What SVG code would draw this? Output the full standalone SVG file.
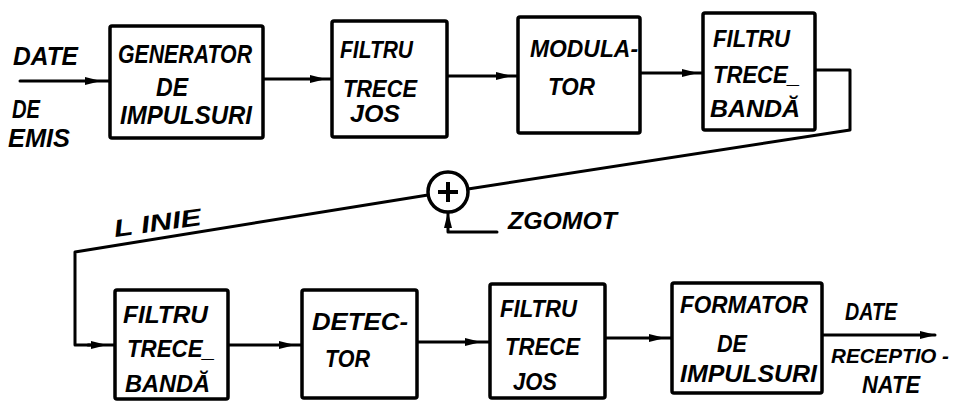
<svg xmlns="http://www.w3.org/2000/svg" width="960" height="402" viewBox="0 0 960 402">
  <style>
    .box { fill: #fff; stroke: #000; stroke-width: 3.5; stroke-linejoin: round; }
    .wire { fill: none; stroke: #000; stroke-width: 3; stroke-linejoin: round; stroke-linecap: round; }
    .t { font-family: "Liberation Sans", Arial, sans-serif; font-weight: bold; font-style: italic; font-size: 24px; fill: #000; }
    .tl { font-size: 26px; }
    .ts { font-size: 21px; }
  </style>
  <defs>
    <marker id="arrow" viewBox="0 0 16 10" refX="15" refY="5" markerWidth="16" markerHeight="10" markerUnits="userSpaceOnUse" orient="auto">
      <path d="M0,1 L16,5 L0,9 z" fill="#000"/>
    </marker>
  </defs>

  <!-- connectors -->
  <g id="connectors">
    <path class="wire" d="M20,81 L100,81 L110,81" marker-mid="url(#arrow)"/>
    <path class="wire" d="M263,79 L325,79 L332,79" marker-mid="url(#arrow)"/>
    <path class="wire" d="M447,76 L511,76 L518,76" marker-mid="url(#arrow)"/>
    <path class="wire" d="M640,73 L697,73 L703,73" marker-mid="url(#arrow)"/>
    <!-- line: band-pass output, down and back across to the summing point -->
    <path class="wire" d="M815,70 L850,70 L850,130 L468,189"/>
    <path class="wire" d="M428,195 L75,252 L75,345 L90,345"/>
    <path class="wire" d="M88,345 L106,345 L115,345" marker-mid="url(#arrow)"/>
    <!-- noise input -->
    <path class="wire" d="M497,232 L448,232 L448,222"/>
    <path class="wire" d="M448,226 L448,213" marker-end="url(#arrow)"/>
    <path class="wire" d="M228,345 L294,345 L302,345" marker-mid="url(#arrow)"/>
    <path class="wire" d="M417,342 L480,342 L490,342" marker-mid="url(#arrow)"/>
    <path class="wire" d="M605,338 L664,338 L672,338" marker-mid="url(#arrow)"/>
    <path class="wire" d="M822,335 L935,335" marker-end="url(#arrow)"/>
  </g>

  <!-- summing point -->
  <g id="sum">
    <circle cx="448" cy="192" r="20" fill="#fff" stroke="#000" stroke-width="3.5"/>
    <path d="M438,192 H458 M448,182 V202" stroke="#000" stroke-width="4" fill="none"/>
  </g>

  <!-- input / output labels -->
  <g id="input-label">
    <text class="t tl" x="13" y="65" textLength="65" lengthAdjust="spacingAndGlyphs">DATE</text>
    <text class="t tl" x="12" y="118" textLength="28" lengthAdjust="spacingAndGlyphs">DE</text>
    <text class="t tl" x="8" y="147" textLength="62" lengthAdjust="spacingAndGlyphs">EMIS</text>
  </g>

  <g id="generator">
    <rect class="box" x="110" y="26" width="153" height="112" rx="2"/>
    <text class="t tl" x="118" y="63" textLength="134" lengthAdjust="spacingAndGlyphs">GENERATOR</text>
    <text class="t tl" x="156" y="96" textLength="32" lengthAdjust="spacingAndGlyphs">DE</text>
    <text class="t tl" x="120" y="124" textLength="132" lengthAdjust="spacingAndGlyphs">IMPULSURI</text>
  </g>

  <g id="ftj-tx">
    <rect class="box" x="332" y="21" width="115" height="116" rx="2"/>
    <text class="t" x="340" y="58" textLength="73" lengthAdjust="spacingAndGlyphs">FILTRU</text>
    <text class="t" x="343" y="97" textLength="74" lengthAdjust="spacingAndGlyphs">TRECE</text>
    <text class="t" x="350" y="122" textLength="50" lengthAdjust="spacingAndGlyphs">JOS</text>
  </g>

  <g id="modulator">
    <rect class="box" x="518" y="17" width="122" height="116" rx="2"/>
    <text class="t" x="530" y="57" textLength="108" lengthAdjust="spacingAndGlyphs">MODULA-</text>
    <text class="t" x="548" y="95" textLength="47" lengthAdjust="spacingAndGlyphs">TOR</text>
  </g>

  <g id="ftb-tx">
    <rect class="box" x="703" y="13" width="112" height="117" rx="2"/>
    <text class="t" x="713" y="47" textLength="77" lengthAdjust="spacingAndGlyphs">FILTRU</text>
    <text class="t" x="713" y="83" textLength="87" lengthAdjust="spacingAndGlyphs">TRECE_</text>
    <text class="t" x="710" y="117" textLength="90" lengthAdjust="spacingAndGlyphs">BANDĂ</text>
  </g>

  <g id="line-labels">
    <text class="t" x="115" y="237" textLength="88" lengthAdjust="spacingAndGlyphs" transform="rotate(-8 115 237)">L INIE</text>
    <text class="t" x="508" y="229" textLength="109" lengthAdjust="spacingAndGlyphs">ZGOMOT</text>
  </g>

  <g id="ftb-rx">
    <rect class="box" x="115" y="290" width="113" height="109" rx="2"/>
    <text class="t" x="123" y="323" textLength="85" lengthAdjust="spacingAndGlyphs">FILTRU</text>
    <text class="t" x="127" y="357" textLength="88" lengthAdjust="spacingAndGlyphs">TRECE_</text>
    <text class="t" x="125" y="392" textLength="85" lengthAdjust="spacingAndGlyphs">BANDĂ</text>
  </g>

  <g id="detector">
    <rect class="box" x="302" y="290" width="115" height="108" rx="2"/>
    <text class="t" x="312" y="330" textLength="96" lengthAdjust="spacingAndGlyphs">DETEC-</text>
    <text class="t" x="325" y="367" textLength="45" lengthAdjust="spacingAndGlyphs">TOR</text>
  </g>

  <g id="ftj-rx">
    <rect class="box" x="490" y="284" width="115" height="114" rx="2"/>
    <text class="t" x="500" y="317" textLength="77" lengthAdjust="spacingAndGlyphs">FILTRU</text>
    <text class="t" x="505" y="355" textLength="75" lengthAdjust="spacingAndGlyphs">TRECE</text>
    <text class="t" x="513" y="390" textLength="44" lengthAdjust="spacingAndGlyphs">JOS</text>
  </g>

  <g id="formator">
    <rect class="box" x="672" y="283" width="150" height="110" rx="2"/>
    <text class="t" x="680" y="313" textLength="128" lengthAdjust="spacingAndGlyphs">FORMATOR</text>
    <text class="t" x="717" y="352" textLength="30" lengthAdjust="spacingAndGlyphs">DE</text>
    <text class="t" x="680" y="382" textLength="137" lengthAdjust="spacingAndGlyphs">IMPULSURI</text>
  </g>

  <g id="output-label">
    <text class="t" x="845" y="320" textLength="52" lengthAdjust="spacingAndGlyphs">DATE</text>
    <text class="t ts" x="831" y="363" textLength="118" lengthAdjust="spacingAndGlyphs">RECEPTIO -</text>
    <text class="t" x="862" y="393" textLength="58" lengthAdjust="spacingAndGlyphs">NATE</text>
  </g>
</svg>
